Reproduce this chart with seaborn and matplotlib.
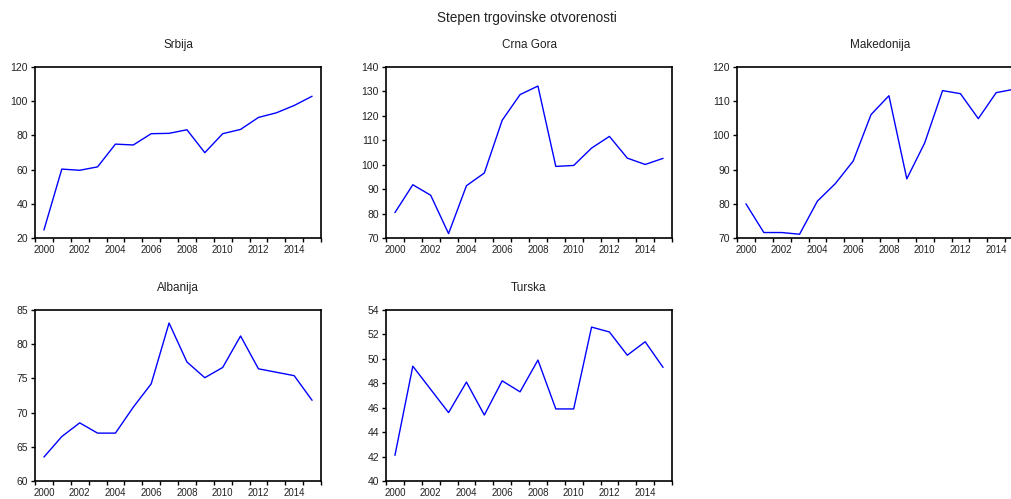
import numpy as np
import pandas as pd
import matplotlib
matplotlib.use("Agg")
import matplotlib.pyplot as plt
from matplotlib.ticker import FixedLocator
import seaborn as sns

# Podaci (procijenjeni sa slike)
years = list(range(2000, 2016))
srbija = [24.7, 60.3, 59.6, 61.6, 74.9, 74.4, 81.0, 81.2, 83.3, 69.9, 81.0, 83.5, 90.5, 93.2, 97.5, 102.9]
crna_gora = [80.4, 91.8, 87.5, 71.8, 91.4, 96.6, 118.2, 128.7, 132.2, 99.3, 99.7, 106.8, 111.6, 102.7, 100.1, 102.6]
makedonija = [80.0, 71.6, 71.6, 71.1, 80.8, 85.9, 92.5, 106.1, 111.6, 87.3, 97.8, 113.1, 112.2, 104.9, 112.5, 113.5]
albanija = [63.5, 66.5, 68.5, 67.0, 67.0, 70.8, 74.2, 83.1, 77.4, 75.1, 76.6, 81.2, 76.4, 75.9, 75.4, 71.8]
turska = [42.1, 49.4, 47.5, 45.6, 48.1, 45.4, 48.2, 47.3, 49.9, 45.9, 45.9, 52.6, 52.2, 50.3, 51.4, 49.3]

titles = ["Srbija", "Crna Gora", "Makedonija", "Albanija", "Turska"]
series = [srbija, crna_gora, makedonija, albanija, turska]
ylims = [(20, 120), (70, 140), (70, 120), (60, 85), (40, 54)]
ysteps = [20, 10, 10, 5, 2]

sns.set_style("ticks")
plt.rcParams['font.family'] = ['Liberation Sans', 'DejaVu Sans']

W, H = 1012, 499
fig = plt.figure(figsize=(W / 100, H / 100), dpi=100)

# pozicije panela u pikselima: (lijevo, gore, sirina, visina)
boxes = [(35, 67, 286, 171), (386, 67, 286, 171), (737, 67, 286, 171),
         (35, 310, 286, 171), (386, 310, 286, 171)]

for title, vals, ylim, step, (l, t, w, h) in zip(titles, series, ylims, ysteps, boxes):
    ax = fig.add_axes([l / W, (H - t - h) / H, w / W, h / H])
    df = pd.DataFrame({"godina": years, "vrijednost": vals})
    sns.lineplot(data=df, x="godina", y="vrijednost", ax=ax, color="#0000ff", linewidth=1.0)
    ax.set_xlim(1999.5, 2015.5)
    ax.set_ylim(*ylim)
    ax.set_xlabel("")
    ax.set_ylabel("")
    ax.set_title(title, fontsize=8.5, color="#222222", pad=14)

    ax.set_xticks(range(2000, 2016, 2))
    ax.xaxis.set_minor_locator(FixedLocator(np.arange(1999.5, 2016, 1)))
    ax.set_yticks(np.arange(ylim[0], ylim[1] + step / 2, step))
    ax.tick_params(axis="x", which="major", length=0, labelsize=7, pad=5, colors="#222222")
    ax.tick_params(axis="x", which="minor", length=3, width=1, direction="out", color="black")
    ax.tick_params(axis="y", which="major", length=3, width=1, direction="out", labelsize=7.5,
                   pad=2, colors="#222222")
    ax.tick_params(axis="both", color="black")
    for sp in ax.spines.values():
        sp.set_visible(True)
        sp.set_linewidth(1.2)
        sp.set_color("black")

fig.text(527 / W, 1 - 18 / H, "Stepen trgovinske otvorenosti", ha="center", va="center",
         fontsize=9.8, color="#222222")

fig.savefig("out.png", dpi=100)
